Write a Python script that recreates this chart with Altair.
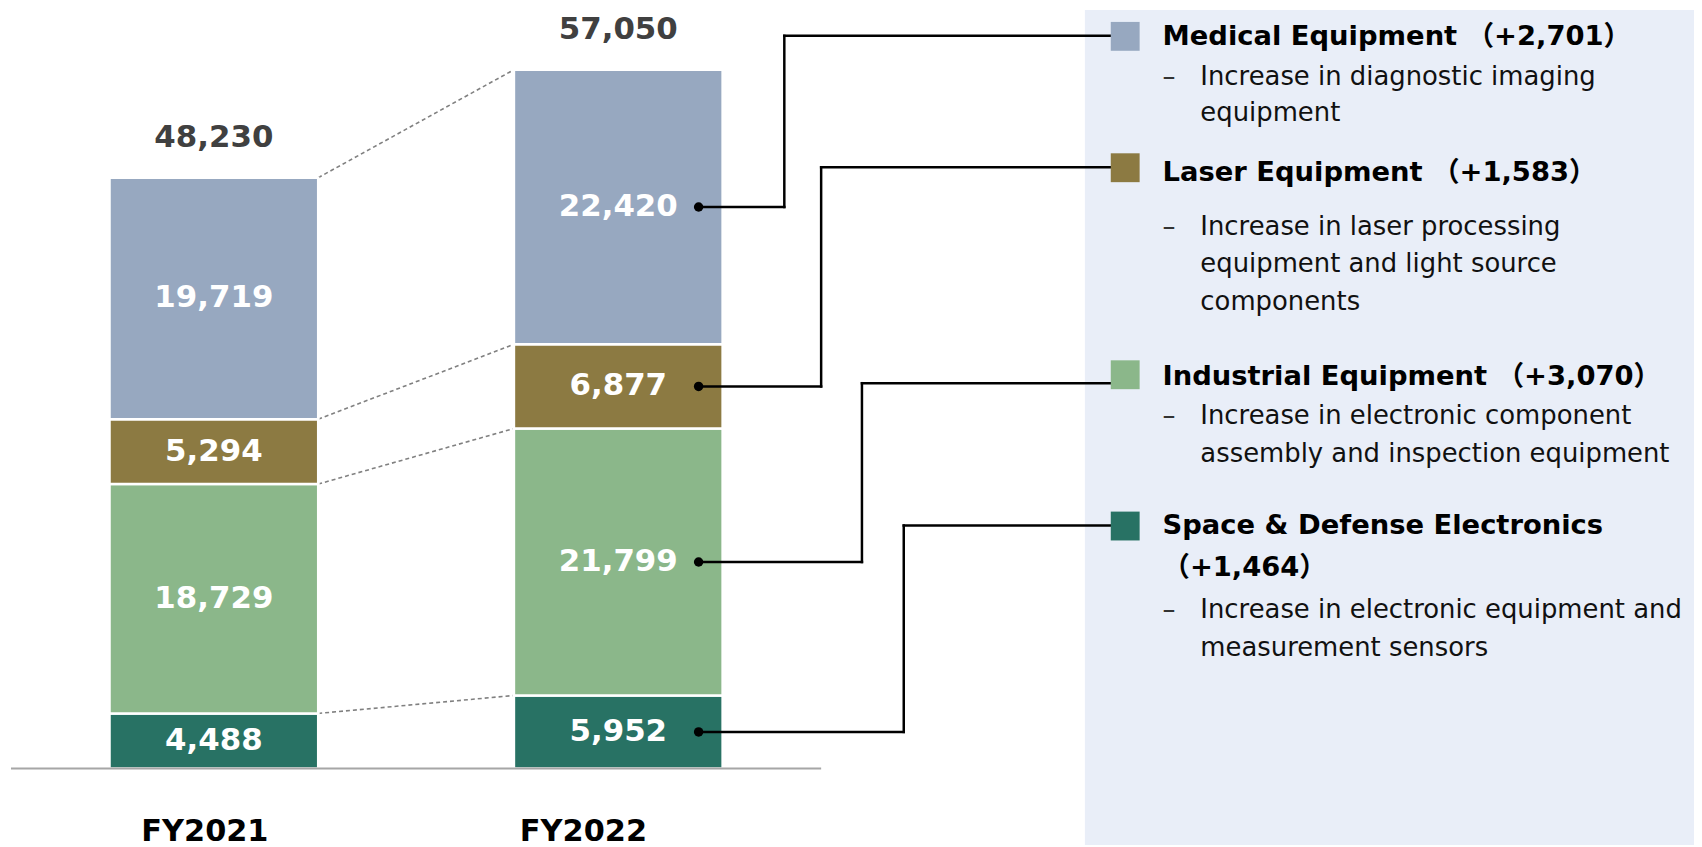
import altair as alt
import pandas as pd

# ---------------- data ----------------
years = ["FY2021", "FY2022"]
segments = ["Space & Defense Electronics", "Industrial Equipment", "Laser Equipment", "Medical Equipment"]  # bottom -> top
values_fy2021 = [4488, 18729, 5294, 19719]
values_fy2022 = [5952, 21799, 6877, 22420]
totals = [48230, 57050]
seg_colors = ["#287264", "#8BB78A", "#8C7A42", "#97A8C0"]

legend_order = ["Medical Equipment", "Laser Equipment", "Industrial Equipment", "Space & Defense Electronics"]
headings = [
    ["Medical Equipment （+2,701）"],
    ["Laser Equipment （+1,583）"],
    ["Industrial Equipment （+3,070）"],
    ["Space & Defense Electronics", "（+1,464）"],
]
notes = [
    ["Increase in diagnostic imaging", "equipment"],
    ["Increase in laser processing", "equipment and light source", "components"],
    ["Increase in electronic component", "assembly and inspection equipment"],
    ["Increase in electronic equipment and", "measurement sensors"],
]

# ---------------- layout (pixels, chart coordinates) ----------------
W, H = 1694, 839
FONT = "DejaVu Sans, Noto Sans CJK JP"
head_y = [[35], [172], [377], [527, 569]]
note_y = [[75, 112], [226, 263, 301], [416, 454], [611, 649]]
head_x, bullet_x, note_x = 1160, 1160, 1198
square_top = [12, 144, 352, 504]
square_size = 29
square_left = 1108
elbow_x = [780, 817, 858, 900]
row_line_y = [26, 158, 375, 518]
dot_band = 0.885
panel_left = 1082

xs = alt.Scale(type="band", domain=years, range=[102, 718], paddingInner=0.484, paddingOuter=0)
ys = alt.Scale(domain=[0, 57050], range=[762, 60])
cs = alt.Scale(domain=segments, range=seg_colors)

# ---------------- tables ----------------
rows = []
for yr, vals in zip(years, [values_fy2021, values_fy2022]):
    cum = 0
    for seg, v in zip(segments, vals):
        rows.append(dict(year=yr, seg=seg, value=v, y0=cum, y1=cum + v,
                         mid=cum + v / 2, label=f"{v:,}"))
        cum += v
stack_df = pd.DataFrame(rows)

tops21 = stack_df[stack_df.year == years[0]].y1.tolist()
tops22 = stack_df[stack_df.year == years[1]].y1.tolist()
dash_df = pd.DataFrame({"a": years[0], "b": years[1], "ya": tops21, "yb": tops22})

tot_df = pd.DataFrame({"year": years, "total": totals, "label": [f"{t:,}" for t in totals]})

head_rows, note_rows, bullet_rows = [], [], []
for k in range(4):
    for t, y in zip(headings[k], head_y[k]):
        head_rows.append(dict(text=t, x=head_x, y=y))
    for i, (t, y) in enumerate(zip(notes[k], note_y[k])):
        note_rows.append(dict(text=t, x=note_x, y=y))
        if i == 0:
            bullet_rows.append(dict(text="–", x=bullet_x, y=y))
head_df = pd.DataFrame(head_rows)
note_df = pd.DataFrame(note_rows)
bullet_df = pd.DataFrame(bullet_rows)

sq_df = pd.DataFrame({
    "seg": legend_order,
    "sx": square_left, "sx2": square_left + square_size,
    "sy": square_top, "sy2": [t + square_size for t in square_top],
})
line3_df = pd.DataFrame({"vx": elbow_x, "sq": square_left, "ry": row_line_y})

# ---------------- layers ----------------
layers = []

panel = alt.Chart(pd.DataFrame({"p": [0]})).mark_rect(color="#E9EEF8").encode(
    x=alt.value(panel_left), x2=alt.value(W), y=alt.value(0), y2=alt.value(H))
layers.append(panel)

dashed = alt.Chart(dash_df).mark_rule(color="#808080", strokeWidth=1.6, strokeDash=[4, 3]).encode(
    x=alt.X("a:N", scale=xs, axis=None, bandPosition=1),
    x2=alt.X2("b:N", bandPosition=0),
    y=alt.Y("ya:Q", scale=ys, axis=None),
    y2="yb:Q")
layers.append(dashed)

bars = alt.Chart(stack_df).mark_bar(stroke="white", strokeWidth=2.5).encode(
    x=alt.X("year:N", scale=xs, axis=None),
    y=alt.Y("y0:Q", scale=ys, axis=None), y2="y1:Q",
    color=alt.Color("seg:N", scale=cs, legend=None))
layers.append(bars)

base = alt.Chart(pd.DataFrame({"z": [0]})).mark_rule(color="#A6A6A6", strokeWidth=2).encode(
    x=alt.value(3), x2=alt.value(817), y=alt.Y("z:Q", scale=ys, axis=None))
layers.append(base)

seg_labels = alt.Chart(stack_df).mark_text(
    font=FONT, fontSize=31, fontWeight="bold", color="white", baseline="middle").encode(
    x=alt.X("year:N", scale=xs, axis=None),
    y=alt.Y("mid:Q", scale=ys, axis=None), text="label:N")
layers.append(seg_labels)

tot_labels = alt.Chart(tot_df).mark_text(
    font=FONT, fontSize=31, fontWeight="bold", color="#404040", baseline="middle", dy=-40).encode(
    x=alt.X("year:N", scale=xs, axis=None),
    y=alt.Y("total:Q", scale=ys, axis=None), text="label:N")
layers.append(tot_labels)

for yr, dx in zip(years, [-9, -35]):
    fy = alt.Chart(pd.DataFrame({"year": [yr]})).mark_text(
        font=FONT, fontSize=30.5, fontWeight="bold", color="black", baseline="alphabetic", dx=dx).encode(
        x=alt.X("year:N", scale=xs, axis=None), y=alt.value(835), text="year:N")
    layers.append(fy)

fy22 = stack_df[stack_df.year == years[1]]
for k, seg in enumerate(legend_order):
    d = fy22[fy22.seg == seg]
    h1 = alt.Chart(d).mark_rule(color="black", strokeWidth=2.5, strokeCap="square").encode(
        x=alt.X("year:N", scale=xs, axis=None, bandPosition=dot_band),
        x2=alt.value(elbow_x[k]),
        y=alt.Y("mid:Q", scale=ys, axis=None))
    v1 = alt.Chart(d).mark_rule(color="black", strokeWidth=2.5, strokeCap="square").encode(
        x=alt.value(elbow_x[k]),
        y=alt.Y("mid:Q", scale=ys, axis=None),
        y2=alt.value(row_line_y[k]))
    layers += [h1, v1]

h3 = alt.Chart(line3_df).mark_rule(color="black", strokeWidth=2.5, strokeCap="square").encode(
    x=alt.X("vx:Q", scale=None, axis=None), x2="sq:Q",
    y=alt.Y("ry:Q", scale=None, axis=None))
layers.append(h3)

dots = alt.Chart(fy22).mark_circle(size=90, color="black", opacity=1).encode(
    x=alt.X("year:N", scale=xs, axis=None, bandPosition=dot_band),
    y=alt.Y("mid:Q", scale=ys, axis=None))
layers.append(dots)

squares = alt.Chart(sq_df).mark_rect().encode(
    x=alt.X("sx:Q", scale=None, axis=None), x2="sx2:Q",
    y=alt.Y("sy:Q", scale=None, axis=None), y2="sy2:Q",
    color=alt.Color("seg:N", scale=cs, legend=None))
layers.append(squares)

head_text = alt.Chart(head_df).mark_text(
    font=FONT, fontSize=27.5, fontWeight="bold", color="#000000", align="left", baseline="alphabetic").encode(
    x=alt.X("x:Q", scale=None, axis=None), y=alt.Y("y:Q", scale=None, axis=None), text="text:N")
note_text = alt.Chart(note_df).mark_text(
    font=FONT, fontSize=26, color="#111111", align="left", baseline="alphabetic").encode(
    x=alt.X("x:Q", scale=None, axis=None), y=alt.Y("y:Q", scale=None, axis=None), text="text:N")
bullet_text = alt.Chart(bullet_df).mark_text(
    font=FONT, fontSize=26, color="#333333", align="left", baseline="alphabetic").encode(
    x=alt.X("x:Q", scale=None, axis=None), y=alt.Y("y:Q", scale=None, axis=None), text="text:N")
layers += [head_text, note_text, bullet_text]

chart = alt.layer(*layers).resolve_scale(
    x="independent", y="independent", color="independent"
).properties(
    width=W, height=H, padding=0,
    autosize=alt.AutoSizeParams(type="none"),
    background="white",
).configure_view(stroke=None)

chart.save("out.html", embed_options={"renderer": "svg", "actions": False})
